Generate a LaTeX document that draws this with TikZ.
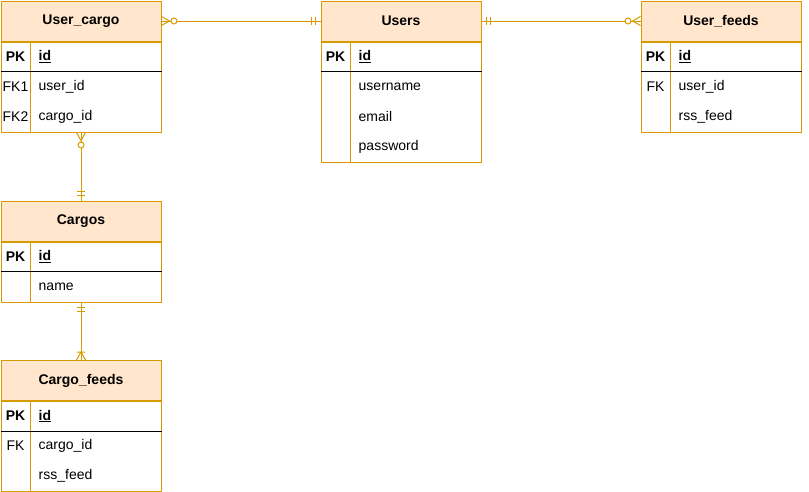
\documentclass[tikz,border=0pt]{standalone}
\usepackage{fontspec}
\setmainfont{Liberation Sans}
\definecolor{ostroke}{HTML}{D79B00}
\definecolor{ofill}{HTML}{FFE6CC}
\tikzset{
  hdr/.style={draw=ostroke, fill=ofill, line width=1pt, minimum width=160pt, minimum height=40pt, inner sep=0pt, font=\fontsize{14}{16}\selectfont\bfseries},
  bodybox/.style={draw=ostroke, fill=white, line width=1pt, minimum width=160pt, inner sep=0pt},
  keyt/.style={inner sep=0pt, font=\fontsize{14}{16}\selectfont},
  fieldt/.style={inner sep=0pt, anchor=west, font=\fontsize{14}{16}\selectfont},
  conn/.style={draw=ostroke, line width=1pt},
  manyopt/.pic={\draw[ostroke, line width=1pt] (0,4.5) -- (8,0) -- (0,-4.5); \draw[ostroke, line width=1pt, fill=white] (12.5,0) circle (3);},
  onemand/.pic={\draw[ostroke, line width=1pt] (5,-4) -- (5,4) (9,-4) -- (9,4);},
  onemany/.pic={\draw[ostroke, line width=1pt] (0,4.5) -- (8,0) -- (0,-4.5) (8,-4) -- (8,4);}
}
\newcommand\ertab[5]{%
  \node[hdr, anchor=north west] (#1) at (#2,#3) {#4};
  \node[bodybox, anchor=north west, minimum height=#5pt] (#1b) at (#1.south west) {};
  \draw[ostroke, line width=1pt] ([xshift=30pt]#1b.north west) -- ([xshift=30pt]#1b.south west);
  \draw[black, line width=1pt] ([yshift=-30pt]#1b.north west) -- ([yshift=-30pt]#1b.north east);
}
\newcommand\errow[4]{%
  \node[keyt] (#1k#2) at ([xshift=15pt, yshift={-(15+30*#2)*1pt}]#1b.north west) {#3};
  \node[fieldt] (#1f#2) at ([xshift=38pt, yshift={-(15+30*#2)*1pt}]#1b.north west) {#4};
}
\begin{document}
\begin{tikzpicture}[x=1pt, y=-1pt]
\useasboundingbox (0,0) rectangle (809,491);
\ertab{uc}{0.5}{0.5}{User\_cargo}{90}
\ertab{us}{320.5}{0.5}{Users}{120}
\ertab{uf}{640.5}{0.5}{User\_feeds}{90}
\ertab{cg}{0.5}{200.5}{Cargos}{60}
\ertab{cf}{0.5}{360}{Cargo\_feeds}{90}

\errow{uc}{0}{\textbf{PK}}{\textbf{\underline{id}}}
\errow{uc}{1}{FK1}{user\_id}
\errow{uc}{2}{FK2}{cargo\_id}

\errow{us}{0}{\textbf{PK}}{\textbf{\underline{id}}}
\errow{us}{1}{}{username}
\errow{us}{2}{}{email}
\errow{us}{3}{}{password}

\errow{uf}{0}{\textbf{PK}}{\textbf{\underline{id}}}
\errow{uf}{1}{FK}{user\_id}
\errow{uf}{2}{}{rss\_feed}

\errow{cg}{0}{\textbf{PK}}{\textbf{\underline{id}}}
\errow{cg}{1}{}{name}

\errow{cf}{0}{\textbf{PK}}{\textbf{\underline{id}}}
\errow{cf}{1}{FK}{cargo\_id}
\errow{cf}{2}{}{rss\_feed}

\draw[conn] (uc.east) -- (us.west);
\draw[conn] (us.east) -- (uf.west);
\draw[conn] (ucb.south) -- (cg.north);
\draw[conn] (cgb.south) -- (cf.north);

\pic[rotate=0] at (uc.east) {manyopt};
\pic[rotate=180] at (us.west) {onemand};
\pic[rotate=0] at (us.east) {onemand};
\pic[rotate=180] at (uf.west) {manyopt};
\pic[rotate=-90] at (ucb.south) {manyopt};
\pic[rotate=90] at (cg.north) {onemand};
\pic[rotate=-90] at (cgb.south) {onemand};
\pic[rotate=90] at (cf.north) {onemany};
\end{tikzpicture}
\end{document}
